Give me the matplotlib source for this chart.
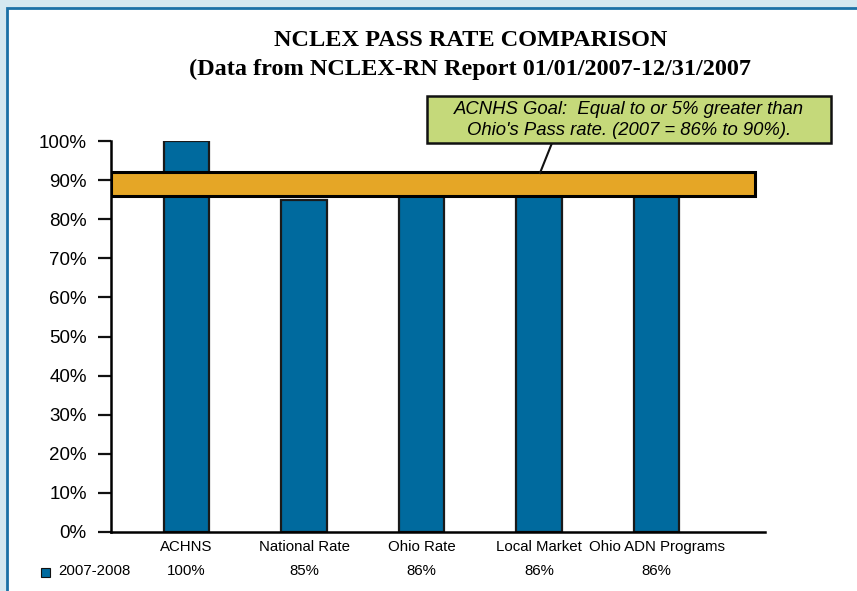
import matplotlib
matplotlib.use("Agg")
import matplotlib.pyplot as plt
from matplotlib.patches import Rectangle
from matplotlib.lines import Line2D
from matplotlib import font_manager
import matplotlib.transforms as mtransforms

categories = ["ACHNS", "National Rate", "Ohio Rate", "Local Market", "Ohio ADN Programs"]
values = [100, 85, 86, 86, 86]
value_labels = ["100%", "85%", "86%", "86%", "86%"]
series_name = "2007-2008"
goal_low, goal_high = 86, 92
yticks = list(range(0, 101, 10))
ytick_labels = [f"{v}%" for v in yticks]

W, H = 857, 591
fig = plt.figure(figsize=(W / 100, H / 100), dpi=100)
fig.patch.set_facecolor("#d5e8f0")

names = {f.name for f in font_manager.fontManager.ttflist}
narrow = "Liberation Sans Narrow" if "Liberation Sans Narrow" in names else "Liberation Sans"
narrow_size = 13 if narrow == "Liberation Sans Narrow" else 10.8

def px(x, y):
    return x / W, 1 - y / H

# white panel with blue border
fig.patches.append(Rectangle((7.5 / W, -0.2), 1.2, (H - 8.0) / H + 0.2, transform=fig.transFigure,
                             facecolor="white", edgecolor="#1c71a6", linewidth=2.0, zorder=-5))

left, right, bottom, top = 111, 765, 532, 141
ax = fig.add_axes([left / W, 1 - bottom / H, (right - left) / W, (bottom - top) / H])
ax.set_facecolor("none")
ax.set_zorder(1)

x = list(range(len(categories)))
ax.bar(x, values, width=0.39, color="#006a9e", edgecolor="#1a1a1a", linewidth=1.6, zorder=2)

ax.axhspan(goal_low, goal_high, xmin=0, xmax=(755 - 111) / (765 - 111),
           facecolor="#e5a626", edgecolor="#000000", linewidth=2.2, zorder=3)

ax.set_xlim(-0.6426, 4.923)
ax.set_ylim(0, 100)
ax.set_yticks(yticks)
ax.set_yticklabels(ytick_labels, fontfamily="Liberation Sans", fontsize=13.5)
ax.tick_params(axis="y", direction="out", length=9.5, width=1.6, pad=8, color="#111111")
ax.set_xticks(x)
ax.set_xticklabels(categories, fontfamily=narrow, fontsize=narrow_size)
ax.tick_params(axis="x", length=0, pad=6)
for s in ["top", "right"]:
    ax.spines[s].set_visible(False)
ax.spines["left"].set_linewidth(1.8)
ax.spines["bottom"].set_linewidth(1.8)

trans = mtransforms.blended_transform_factory(ax.transData, ax.transAxes)
for xi, lab in zip(x, value_labels):
    ax.text(xi, -39 / 391, lab, transform=trans, ha="center", va="center",
            fontfamily=narrow, fontsize=narrow_size)

# legend entry
fig.patches.append(Rectangle(px(40.5, 576.5), 9 / W, 9 / H, transform=fig.transFigure,
                             facecolor="#006a9e", edgecolor="#111111", linewidth=0.8, zorder=5))
fig.text(58 / W, 1 - 571 / H, series_name, ha="left", va="center",
         fontfamily=narrow, fontsize=narrow_size)

# title
fig.text(471 / W, 1 - 40 / H, "NCLEX PASS RATE COMPARISON", ha="center", va="center",
         fontfamily="Liberation Serif", fontweight="bold", fontsize=17.5)
fig.text(470 / W, 1 - 69 / H, "(Data from NCLEX-RN Report 01/01/2007-12/31/2007", ha="center",
         va="center", fontfamily="Liberation Serif", fontweight="bold", fontsize=17.5)

# callout
bx0, by0, bx1, by1 = 427, 96, 831, 143
fig.patches.append(Rectangle(px(bx0, by1), (bx1 - bx0) / W, (by1 - by0) / H, transform=fig.transFigure,
                             facecolor="#c5d97a", edgecolor="#111111", linewidth=1.8, zorder=5))
fig.lines.append(Line2D([552 / W, 540 / W], [1 - 143 / H, 1 - 173 / H], transform=fig.transFigure,
                        color="#111111", linewidth=1.5, zorder=4))
fig.text(629 / W, 1 - 109 / H, "ACNHS Goal:  Equal to or 5% greater than", ha="center", va="center",
         fontfamily="Liberation Sans", style="italic", fontsize=13.3, zorder=6)
fig.text(629 / W, 1 - 130 / H, "Ohio's Pass rate. (2007 = 86% to 90%).", ha="center", va="center",
         fontfamily="Liberation Sans", style="italic", fontsize=13.3, zorder=6)

fig.savefig("out.png", dpi=100, facecolor=fig.get_facecolor())
